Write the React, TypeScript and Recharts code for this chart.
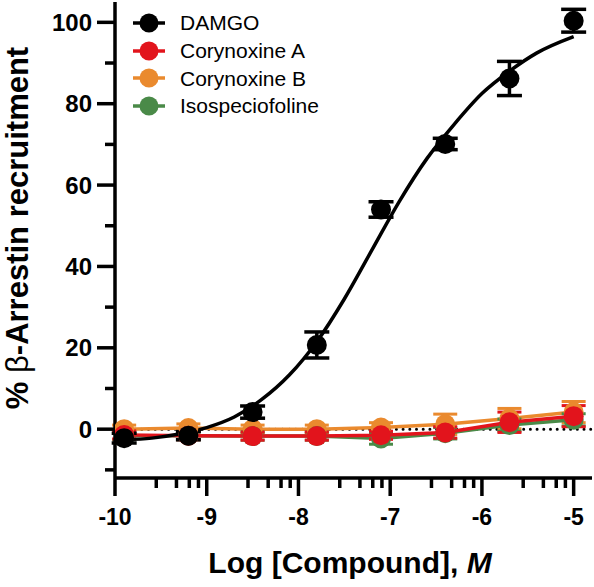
import React from 'react';
import { ComposedChart, Line, Scatter, XAxis, YAxis, ErrorBar, ReferenceLine } from 'recharts';

const FONT = '"Liberation Sans", Arial, Helvetica, sans-serif';

// log molar concentrations tested
const logDose = [-9.9, -9.2, -8.5, -7.8, -7.1, -6.4, -5.7, -5.0];

const damgo = [-2.2, -1.6, 4.2, 20.7, 54, 70.1, 86.2, 100.4];
const damgoErr = [1.2, 1.0, 1.5, 3.2, 1.9, 1.4, 4.2, 2.8];
const corynoxineA = [-1.4, -1.6, -1.7, -1.7, -1.5, -0.8, 1.7, 3.2];
const corynoxineAErr = [1, 1, 1, 1, 1, 1.4, 2.5, 2.6];
const corynoxineB = [0, 0.3, 0, 0, 0.4, 1.2, 2.6, 4.2];
const corynoxineBErr = [1, 1, 1, 1, 1.2, 2.5, 2.5, 2.6];
const isospeciofoline = [-1.6, -1.6, -1.7, -1.7, -2.3, -1.0, 1.0, 2.3];
const isospeciofolineErr = [1, 1, 1, 1, 1.4, 1.4, 1.5, 1.5];

// DAMGO fitted curve
const fitLogDose = [-9.9, -9.6, -9.3, -9.0, -8.7, -8.4, -8.1, -7.8, -7.5, -7.2, -6.9, -6.6, -6.3, -6.0, -5.7, -5.4, -5.0];
const fitResponse = [-2.6, -2.2, -1.2, 0.4, 3.0, 7.3, 13.3, 21.5, 32, 44, 56, 66.5, 75, 82.5, 88, 92.5, 96.5];

const seriesNames = ['DAMGO', 'Corynoxine A', 'Corynoxine B', 'Isospeciofoline'];
const seriesColors = ['#000000', '#e2141c', '#ea8a2e', '#4a8a48'];

const xMajorTicks = [-10, -9, -8, -7, -6, -5];
const xMinorTicks = [
  -9.55, -9.33, -9.19, -9.09, -8.55, -8.33, -8.19, -8.09, -7.55, -7.33, -7.19, -7.09,
  -6.55, -6.33, -6.19, -6.09, -5.55, -5.33, -5.19, -5.09,
];
const yMajorTicks = [0, 20, 40, 60, 80, 100];
const yMinorTicks = [-10, 10, 30, 50, 70, 90];

const toPoints = (ys: number[], errs: number[]) => logDose.map((x, i) => ({ x, y: ys[i], err: errs[i] }));

const damgoData = toPoints(damgo, damgoErr);
const coryAData = toPoints(corynoxineA, corynoxineAErr);
const coryBData = toPoints(corynoxineB, corynoxineBErr);
const isoData = toPoints(isospeciofoline, isospeciofolineErr);
const fitData = fitLogDose.map((x, i) => ({ x, y: fitResponse[i] }));

const XTick = (props: any) => {
  const { x, y, payload } = props;
  const major = xMajorTicks.includes(payload.value);
  return (
    <g>
      <line x1={x} x2={x} y1={y} y2={y + (major ? 18 : 10)} stroke="#000" strokeWidth={3.5} />
      {major && (
        <text x={x} y={y + 47} textAnchor="middle" fontSize={23} fontWeight="bold" fontFamily={FONT} fill="#000">
          {payload.value}
        </text>
      )}
    </g>
  );
};

const YTick = (props: any) => {
  const { x, y, payload } = props;
  const major = yMajorTicks.includes(payload.value);
  return (
    <g>
      <line x1={x - (major ? 18 : 10)} x2={x} y1={y} y2={y} stroke="#000" strokeWidth={3.5} />
      {major && (
        <text x={x - 23} y={y} dy="0.36em" textAnchor="end" fontSize={24} fontWeight="bold" fontFamily={FONT} fill="#000">
          {payload.value}
        </text>
      )}
    </g>
  );
};

const dotShape = (props: any) => <circle cx={props.cx} cy={props.cy} r={10} fill="#000" />;

const LegendBox = () => (
  <div style={{ position: 'absolute', left: 133, top: 9, fontFamily: FONT, fontSize: 21, color: '#000' }}>
    {seriesNames.map((name, i) => (
      <div key={name} style={{ display: 'flex', alignItems: 'center', height: 27.7 }}>
        <svg width={32} height={28}>
          <line x1={0} x2={32} y1={14} y2={14} stroke={seriesColors[i]} strokeWidth={3.5} />
          <circle cx={16} cy={14} r={9.5} fill={seriesColors[i]} />
        </svg>
        <span style={{ marginLeft: 15, lineHeight: 1 }}>{name}</span>
      </div>
    ))}
  </div>
);

export default function App() {
  return (
    <div style={{ position: 'absolute', left: 0, top: 0, width: 594, height: 587, background: '#fff' }}>
      <ComposedChart width={594} height={587} margin={{ top: 2, right: 2, left: 0, bottom: 0 }}>
        <XAxis
          type="number"
          dataKey="x"
          domain={[-10, -4.8]}
          ticks={[...xMajorTicks, ...xMinorTicks]}
          interval={0}
          allowDataOverflow
          height={109}
          tickSize={0}
          tickMargin={0}
          tickLine={false}
          axisLine={{ stroke: '#000', strokeWidth: 3.5 }}
          tick={<XTick />}
        />
        <YAxis
          type="number"
          domain={[-12, 105]}
          ticks={[...yMajorTicks, ...yMinorTicks]}
          interval={0}
          allowDataOverflow
          width={115}
          tickSize={0}
          tickMargin={0}
          tickLine={false}
          axisLine={{ stroke: '#000', strokeWidth: 3.5 }}
          tick={<YTick />}
        />
        <ReferenceLine y={0} stroke="#000" strokeWidth={3} strokeDasharray="0 6.7" strokeLinecap="round" />
        <Line data={coryBData} dataKey="y" stroke={seriesColors[2]} strokeWidth={3.5} isAnimationActive={false}
          dot={{ r: 10, fill: seriesColors[2], stroke: 'none' }} activeDot={false}>
          <ErrorBar dataKey="err" width={12} strokeWidth={3} stroke={seriesColors[2]} direction="y" />
        </Line>
        <Line data={isoData} dataKey="y" stroke={seriesColors[3]} strokeWidth={3.5} isAnimationActive={false}
          dot={{ r: 10, fill: seriesColors[3], stroke: 'none' }} activeDot={false}>
          <ErrorBar dataKey="err" width={12} strokeWidth={3} stroke={seriesColors[3]} direction="y" />
        </Line>
        <Line data={coryAData} dataKey="y" stroke={seriesColors[1]} strokeWidth={3.5} isAnimationActive={false}
          dot={{ r: 10, fill: seriesColors[1], stroke: 'none' }} activeDot={false}>
          <ErrorBar dataKey="err" width={12} strokeWidth={3} stroke={seriesColors[1]} direction="y" />
        </Line>
        <Line data={fitData} dataKey="y" type="monotone" stroke="#000" strokeWidth={3.5} dot={false}
          activeDot={false} isAnimationActive={false} />
        <Scatter data={damgoData} dataKey="y" shape={dotShape} isAnimationActive={false}>
          <ErrorBar dataKey="err" width={12.5} strokeWidth={3.5} stroke="#000" direction="y" />
        </Scatter>
        <text transform="translate(28,228) rotate(-90)" textAnchor="middle" fontSize={31} fontWeight="bold"
          fontFamily={FONT} fill="#000">
          {'% '}<tspan fontWeight="normal">β</tspan>{'-Arrestin recruitment'}
        </text>
        <text x={350} y={573} textAnchor="middle" fontSize={30} fontWeight="bold" fontFamily={FONT} fill="#000">
          {'Log [Compound], '}<tspan fontStyle="italic">M</tspan>
        </text>
      </ComposedChart>
      <LegendBox />
    </div>
  );
}
